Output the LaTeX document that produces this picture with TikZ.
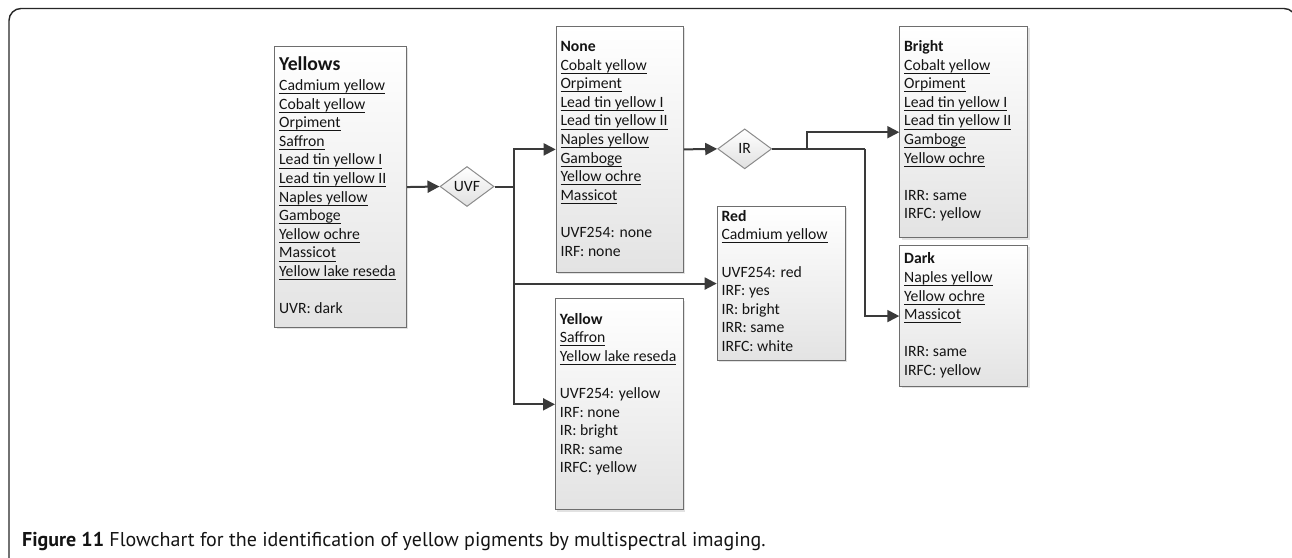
\documentclass[tikz,border=0pt]{standalone}
\usepackage{fontspec}
\setmainfont{Carlito}
\newfontfamily\capfont{PT Sans}
\usetikzlibrary{arrows.meta,shapes.geometric,shadows}
\definecolor{txt}{HTML}{141414}
\definecolor{edge}{HTML}{3A3A3A}
\definecolor{boxline}{HTML}{6E6E6E}
\newcommand{\pig}[1]{\leavevmode\setbox0\hbox{#1}\rlap{\rule[-3.5pt]{\wd0}{0.9pt}}\box0}
% width, height, first baseline, content
\newcommand{\boxbody}[4]{\hbox{\hspace*{4.3pt}\parbox[t][#2pt][t]{\dimexpr#1pt-4.3pt\relax}{\fontsize{15.7}{18.6}\selectfont\color{txt}\rule{0pt}{#3pt}#4}}}
\tikzset{
  box/.style={draw=boxline, line width=1.1pt, top color=white, bottom color=black!11,
    drop shadow={shadow xshift=1.8pt, shadow yshift=-1.8pt, fill=black!25, opacity=0.45},
    inner sep=0pt, anchor=north west},
  dia/.style={diamond, draw=boxline!80, line width=1pt, top color=white, bottom color=black!12,
    minimum width=54pt, minimum height=40pt, aspect=1.35, inner sep=0pt,
    font=\fontsize{15.7}{18}\selectfont, text=txt},
  conn/.style={draw=edge, line width=2pt},
  arr/.style={conn, -{Triangle[length=12pt,width=12pt]}},
  frame/.style={draw=black!85, line width=1.4pt, rounded corners=12pt}
}
\begin{document}
\begin{tikzpicture}[x=1pt,y=-1pt]
\useasboundingbox (0,0) rectangle (1292,557);
\draw[frame] (9,565) -- (9,8.5) -- (1296,8.5) -- (1296,40);

\node[box] (yellows) at (274.3,46) {\boxbody{131.7}{281}{24}{{\fontsize{19.7}{20}\selectfont\bfseries Yellows}\\[1.4pt]
\pig{Cadmium yellow}\\ \pig{Cobalt yellow}\\ \pig{Orpiment}\\ \pig{Saffron}\\ \pig{Lead tin yellow I}\\ \pig{Lead tin yellow II}\\ \pig{Naples yellow}\\ \pig{Gamboge}\\ \pig{Yellow ochre}\\ \pig{Massicot}\\ \pig{Yellow lake reseda}\\[18.6pt]
UVR: dark}};

\node[box] (none) at (555.7,26) {\boxbody{127}{245.7}{25}{\textbf{None}\\
\pig{Cobalt yellow}\\ \pig{Orpiment}\\ \pig{Lead tin yellow I}\\ \pig{Lead tin yellow II}\\ \pig{Naples yellow}\\ \pig{Gamboge}\\ \pig{Yellow ochre}\\ \pig{Massicot}\\[18.6pt]
UVF254: none\\ IRF: none}};

\node[box] (yellow) at (555,298.3) {\boxbody{127.7}{211}{25.3}{\textbf{Yellow}\\
\pig{Saffron}\\ \pig{Yellow lake reseda}\\[18.6pt]
UVF254: yellow\\ IRF: none\\ IR: bright\\ IRR: same\\ IRFC: yellow}};

\node[box] (red) at (716.7,206) {\boxbody{128.3}{154}{14.7}{\textbf{Red}\\
\pig{Cadmium yellow}\\[18.6pt]
UVF254: red\\ IRF: yes\\ IR: bright\\ IRR: same\\ IRFC: white}};

\node[box] (bright) at (899.3,26) {\boxbody{128}{211.3}{25}{\textbf{Bright}\\
\pig{Cobalt yellow}\\ \pig{Orpiment}\\ \pig{Lead tin yellow I}\\ \pig{Lead tin yellow II}\\ \pig{Gamboge}\\ \pig{Yellow ochre}\\[18.6pt]
IRR: same\\ IRFC: yellow}};

\node[box] (dark) at (899.3,245) {\boxbody{128}{141}{18.3}{\textbf{Dark}\\
\pig{Naples yellow}\\ \pig{Yellow ochre}\\ \pig{Massicot}\\[18.6pt]
IRR: same\\ IRFC: yellow}};

\node[dia] (uvf) at (467,186.5) {UVF};
\node[dia] (ir) at (744.7,148.85) {IR};

\coordinate (j1) at (514,186.5);
\coordinate (j2) at (806.7,148.85);
\coordinate (j3) at (865,148.85);

\draw[arr] (yellows.east) -- (uvf.west);
\draw[conn] (uvf.east) -- (j1);
\draw[arr] (j1) |- (none.west);
\draw[arr] (j1) |- (red.west);
\draw[arr] (j1) |- (yellow.west);
\draw[arr] (none.east) -- (ir.west);
\draw[conn] (ir.east) -- (j3);
\draw[arr] (j2) |- (bright.west);
\draw[arr] (j3) |- (dark.west);

\node[anchor=base west, inner sep=0pt, text=txt, font=\capfont\fontsize{20}{23}\selectfont] (cap) at (22,546)
  {\textbf{Figure 11} Flowchart for the identification of yellow pigments by multispectral imaging.};
\end{tikzpicture}
\end{document}
